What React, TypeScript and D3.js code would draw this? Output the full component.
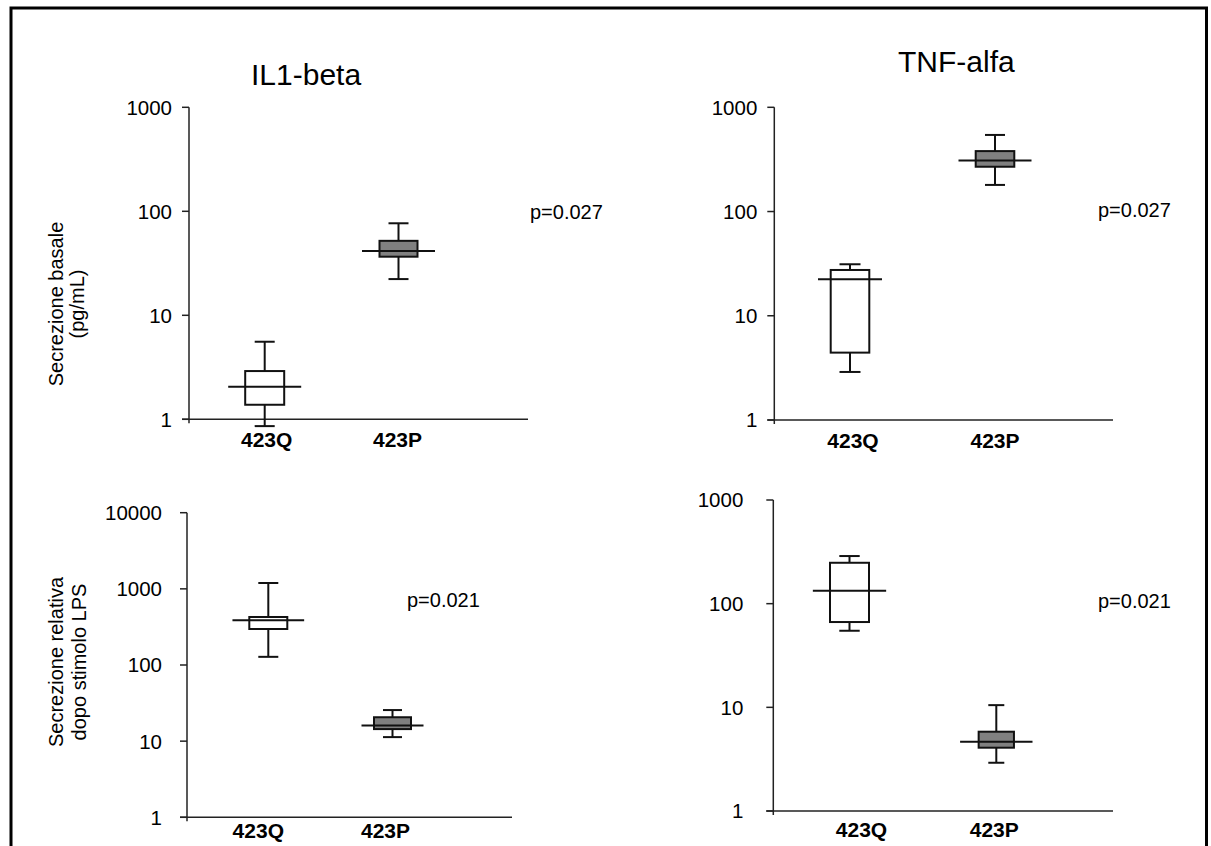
import React from "react";
import * as d3 from "d3";

// ---------- data ----------
const categories = ["423Q", "423P"];

// box summaries per category: [min, q1, median, q3, max]
const il1Basal = [
  [0.86, 1.38, 2.06, 2.91, 5.57],
  [22.3, 36.6, 41.5, 52, 76.7],
];
const tnfBasal = [
  [2.89, 4.43, 22.4, 27.5, 31.2],
  [180, 269, 308, 380, 543],
];
const il1Lps = [
  [128, 297, 386, 427, 1194],
  [11.3, 14.4, 16.1, 20.6, 25.6],
];
const tnfLps = [
  [54.8, 66.5, 133, 248, 288],
  [2.92, 4.08, 4.66, 5.82, 10.5],
];

const ticksBasal = [1, 10, 100, 1000];
const ticksIl1Lps = [1, 10, 100, 1000, 10000];
const ticksTnfLps = [1, 10, 100, 1000];

const titles = ["IL1-beta", "TNF-alfa"];
const pValues = ["p=0.027", "p=0.027", "p=0.021", "p=0.021"];
const yTitleBasal = ["Secrezione basale", "(pg/mL)"];
const yTitleLps = ["Secrezione relativa", "dopo stimolo LPS"];

// ---------- layout ----------
const FONT = "'Liberation Sans', Arial, Helvetica, sans-serif";

type Panel = {
  data: number[][];
  ticks: number[];
  axisX: number;
  yTop: number;
  yBottom: number;
  xEnd: number;
  offsets: [number, number];
  labelGap: number;
  catBaseline: number;
  catDx: number[];
  pX: number;
  pY: number;
  pText: string;
  medianW: number[];
  boxW: number[];
  capW: number[];
};

const panels: Panel[] = [
  {
    data: il1Basal, ticks: ticksBasal,
    axisX: 189, yTop: 107.3, yBottom: 419.3, xEnd: 528,
    offsets: [75.7, 209.5], labelGap: 10, catBaseline: 447, catDx: [2, -1],
    pX: 530, pY: 219, pText: pValues[0],
    medianW: [73, 73], boxW: [39, 38], capW: [20, 20],
  },
  {
    data: tnfBasal, ticks: ticksBasal,
    axisX: 774.3, yTop: 107.3, yBottom: 420, xEnd: 1113,
    offsets: [75.7, 220.7], labelGap: 10, catBaseline: 448, catDx: [3, 0],
    pX: 1098, pY: 217, pText: pValues[1],
    medianW: [64, 73], boxW: [38.6, 38.6], capW: [21, 20],
  },
  {
    data: il1Lps, ticks: ticksIl1Lps,
    axisX: 187, yTop: 512.7, yBottom: 817.3, xEnd: 512,
    offsets: [81.3, 205.5], labelGap: 18, catBaseline: 838, catDx: [-10, -7],
    pX: 407, pY: 607, pText: pValues[2],
    medianW: [71.7, 62], boxW: [38, 37], capW: [20, 19],
  },
  {
    data: tnfLps, ticks: ticksTnfLps,
    axisX: 773.3, yTop: 500, yBottom: 811, xEnd: 1113,
    offsets: [76.2, 223], labelGap: 23, catBaseline: 837, catDx: [12, -2],
    pX: 1098, pY: 608, pText: pValues[3],
    medianW: [73.3, 72.4], boxW: [39, 35.3], capW: [20.4, 16],
  },
];

const fills = ["#ffffff", "#808080"];

function BoxPanel({ p }: { p: Panel }) {
  const maxTick = p.ticks[p.ticks.length - 1];
  const y = d3.scaleLog().domain([1, maxTick]).range([p.yBottom, p.yTop]);
  const x = d3
    .scalePoint<string>()
    .domain(categories)
    .range([p.axisX + p.offsets[0], p.axisX + p.offsets[1]]);
  const tickLen = 7;
  return (
    <g>
      {/* y axis */}
      <line x1={p.axisX} x2={p.axisX} y1={p.yTop} y2={p.yBottom + 4} stroke="#222" strokeWidth={1.5} />
      {/* x axis */}
      <line x1={p.axisX - tickLen} x2={p.xEnd} y1={p.yBottom} y2={p.yBottom} stroke="#222" strokeWidth={1.5} />
      {p.ticks.map((t) => (
        <g key={t}>
          <line x1={p.axisX - tickLen} x2={p.axisX} y1={y(t)} y2={y(t)} stroke="#222" strokeWidth={1.5} />
          <text
            x={p.axisX - tickLen - p.labelGap}
            y={y(t)}
            dy="0.36em"
            textAnchor="end"
            fontSize={20.5}
            fontFamily={FONT}
            fill="#000"
          >
            {t}
          </text>
        </g>
      ))}
      {categories.map((c, i) => {
        const [mn, q1, md, q3, mx] = p.data[i];
        const cx = x(c) as number;
        const bw = p.boxW[i];
        const cw = p.capW[i];
        const mw = p.medianW[i];
        return (
          <g key={c}>
            <line x1={cx} x2={cx} y1={y(mx)} y2={y(q3)} stroke="#111" strokeWidth={2} />
            <line x1={cx} x2={cx} y1={y(q1)} y2={y(mn)} stroke="#111" strokeWidth={2} />
            <line x1={cx - cw / 2} x2={cx + cw / 2} y1={y(mx)} y2={y(mx)} stroke="#111" strokeWidth={2} />
            <line x1={cx - cw / 2} x2={cx + cw / 2} y1={y(mn)} y2={y(mn)} stroke="#111" strokeWidth={2} />
            <rect
              x={cx - bw / 2}
              y={y(q3)}
              width={bw}
              height={y(q1) - y(q3)}
              fill={fills[i]}
              stroke="#111"
              strokeWidth={2}
            />
            <line x1={cx - mw / 2} x2={cx + mw / 2} y1={y(md)} y2={y(md)} stroke="#111" strokeWidth={2} />
            <text
              x={cx + p.catDx[i]}
              y={p.catBaseline}
              textAnchor="middle"
              fontSize={21}
              fontWeight="bold"
              fontFamily={FONT}
              fill="#000"
            >
              {c}
            </text>
          </g>
        );
      })}
      <text x={p.pX} y={p.pY} fontSize={20} fontFamily={FONT} fill="#000">
        {p.pText}
      </text>
    </g>
  );
}

function YTitle({ lines, cy, xs }: { lines: string[]; cy: number; xs: number[] }) {
  return (
    <g>
      {lines.map((l, i) => (
        <text
          key={l}
          transform={`translate(${xs[i]},${cy}) rotate(-90)`}
          textAnchor="middle"
          fontSize={20}
          fontFamily={FONT}
          fill="#000"
        >
          {l}
        </text>
      ))}
    </g>
  );
}

export default function App() {
  return (
    <svg
      width={1211}
      height={846}
      style={{ position: "absolute", left: 0, top: 0, background: "#fff" }}
    >
      <rect x={0} y={0} width={1211} height={846} fill="#fff" />
      <rect x={11} y={8} width={1195.5} height={900} fill="none" stroke="#000" strokeWidth={3} />
      <text x={251} y={85} fontSize={30} fontFamily={FONT} fill="#000">
        {titles[0]}
      </text>
      <text x={898} y={72} fontSize={30} fontFamily={FONT} fill="#000">
        {titles[1]}
      </text>
      <YTitle lines={yTitleBasal} cy={304} xs={[63, 84]} />
      <YTitle lines={yTitleLps} cy={662} xs={[63, 86]} />
      {panels.map((p, i) => (
        <BoxPanel key={i} p={p} />
      ))}
    </svg>
  );
}
